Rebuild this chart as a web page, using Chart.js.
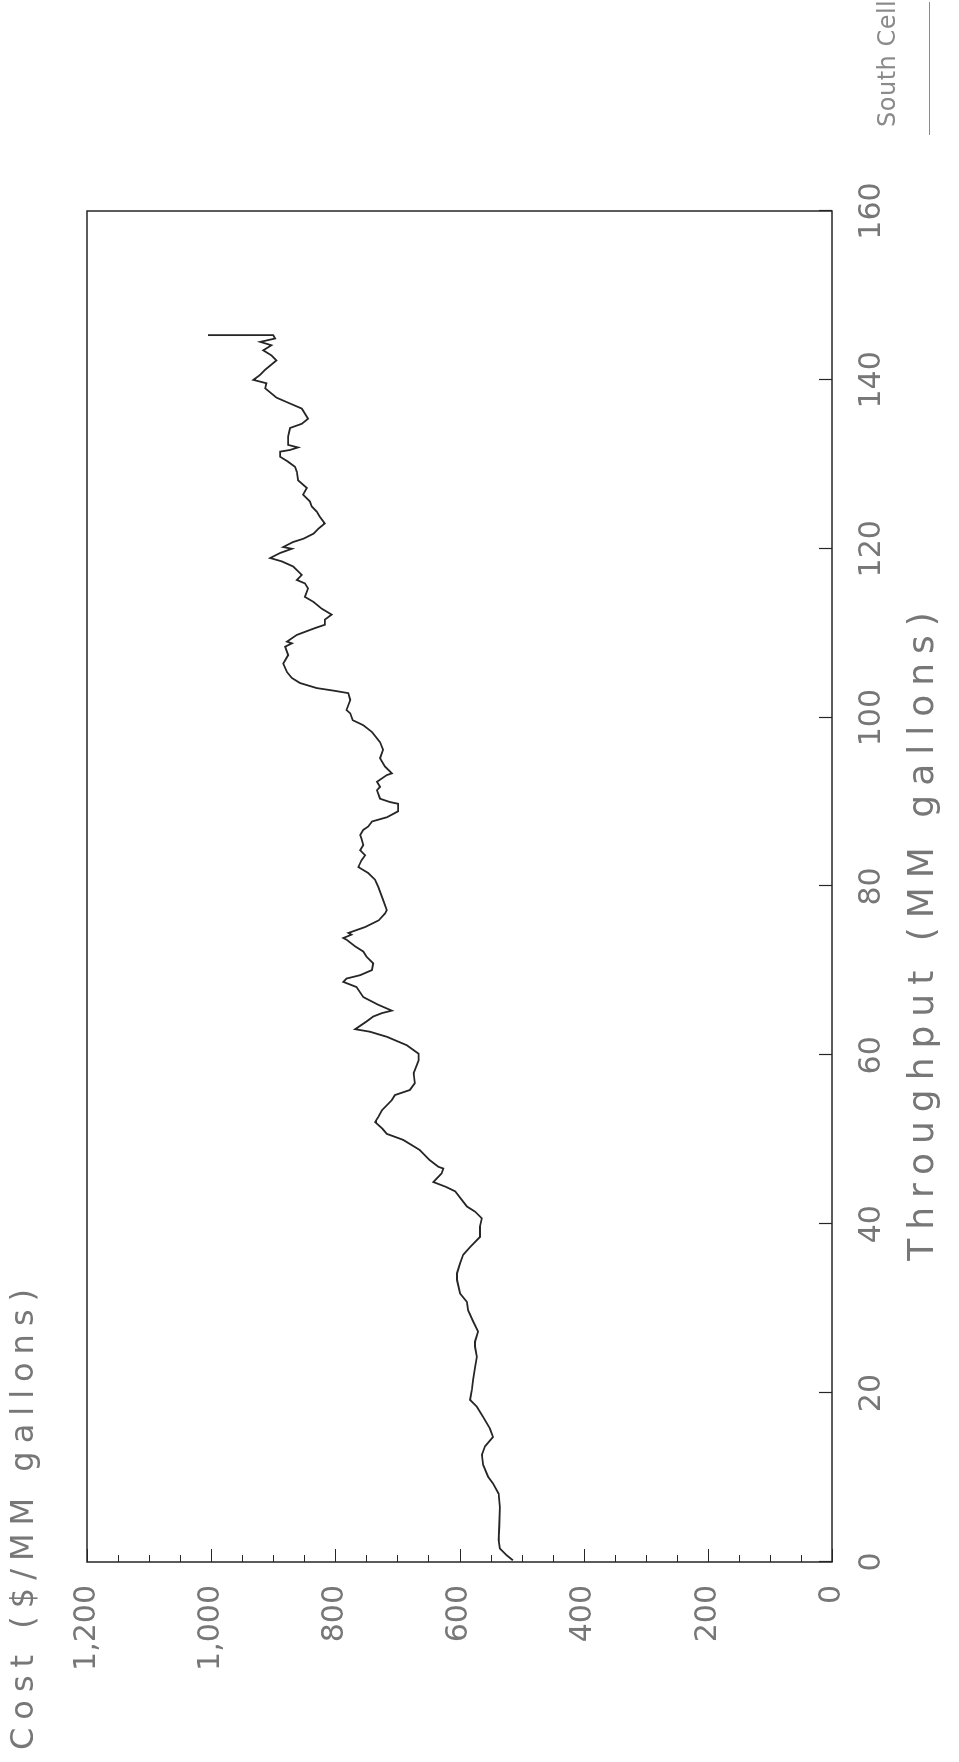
<!DOCTYPE html>
<html>
<head>
<meta charset="utf-8">
<script src="https://cdn.jsdelivr.net/npm/chart.js@4.4.1/dist/chart.umd.min.js"></script>
<style>
  html, body { margin: 0; padding: 0; background: #fff; overflow: hidden; width: 959px; height: 1762px; }
  /* the chart is laid out landscape and turned a quarter turn to stand on the page */
  #wrap { position: absolute; left: 0; top: 0; width: 1762px; height: 959px;
          transform-origin: 0 0; transform: translateY(1762px) rotate(-90deg); }
  canvas { display: block; }
</style>
</head>
<body>
<div id="wrap"><canvas id="c" width="1762" height="959"></canvas></div>
<script>
// Cumulative throughput (MM gallons) and running cost ($/MM gallons)
const throughput = [
  0.2, 0.8, 1.6, 2.6, 4.2, 6.5, 8.1, 9.3, 10.1, 11.5, 12.7, 13.7, 14.8, 15.8, 17.2, 18.4, 19.2, 20.4,
  21.6, 23.1, 24.3, 25.5, 26.1, 27.3, 28.5, 29.8, 30.8, 31.8, 33.4, 34.2, 35.4, 36.4, 37.3, 38.5,
  39.7, 40.7, 41.5, 42.1, 43.9, 44.4, 45.0, 46.0, 46.6, 46.8, 47.6, 48.8, 50.0, 50.7, 51.3, 52.1,
  52.7, 53.5, 54.7, 55.3, 55.9, 56.7, 57.9, 59.4, 60.2, 61.2, 62.2, 62.8, 63.1, 64.0, 64.6, 65.0,
  65.3, 66.0, 66.9, 68.1, 68.7, 69.1, 69.5, 70.1, 70.9, 71.7, 72.3, 72.9, 73.7, 73.9, 74.3, 74.5,
  75.2, 76.0, 76.8, 77.2, 78.4, 80.0, 80.8, 81.6, 82.3, 83.1, 83.7, 84.3, 84.9, 85.7, 86.1, 86.7,
  87.1, 87.7, 88.2, 88.9, 89.8, 90.0, 90.4, 91.4, 91.8, 92.4, 93.2, 93.4, 94.2, 95.2, 96.2, 97.1,
  98.3, 99.1, 99.7, 100.5, 100.9, 102.1, 102.9, 103.2, 103.5, 104.1, 104.7, 105.4, 106.4, 107.4,
  108.4, 108.8, 109.0, 109.8, 110.6, 111.0, 111.6, 112.2, 112.9, 113.7, 114.3, 115.3, 115.9, 116.3,
  116.9, 117.9, 118.5, 118.9, 119.5, 120.0, 120.2, 120.8, 121.2, 121.8, 122.4, 123.0, 123.8, 124.4,
  125.0, 125.6, 126.4, 127.2, 128.1, 129.1, 129.7, 130.3, 130.9, 131.5, 131.7, 132.0, 132.3, 133.3,
  134.3, 134.8, 135.4, 136.6, 137.2, 137.9, 139.0, 139.6, 140.0, 140.6, 141.2, 142.3, 142.9, 143.5,
  144.1, 144.5, 144.9, 145.3, 145.3
];
const cost = [
  514, 524, 535, 537, 536, 535, 537, 546, 554, 562, 564, 559, 546, 551, 562, 572, 583, 580,
  578, 575, 572, 575, 575, 570, 578, 586, 588, 599, 604, 604, 599, 594, 583, 567,
  567, 564, 575, 588, 607, 621, 642, 629, 626, 634, 648, 664, 691, 717, 724, 736,
  731, 725, 709, 704, 680, 672, 674, 666, 666, 685, 717, 744, 768, 750, 739, 725,
  709, 731, 755, 766, 787, 782, 760, 741, 739, 750, 755, 768, 782, 787, 774, 779,
  752, 730, 720, 717, 723, 731, 736, 747, 763, 758, 752, 760, 755, 758, 760, 755,
  747, 741, 717, 699, 699, 712, 728, 733, 728, 733, 717, 709, 720, 728, 723, 728,
  741, 755, 772, 776, 782, 776, 779, 803, 830, 857, 870, 878, 884, 876,
  881, 870, 878, 862, 833, 817, 817, 806, 822, 835, 849, 844, 849, 862,
  854, 868, 886, 905, 889, 870, 884, 868, 851, 835, 827, 817, 825, 830,
  838, 841, 852, 846, 860, 862, 865, 876, 889, 889, 873, 860, 876, 876,
  873, 854, 844, 854, 873, 895, 913, 911, 932, 921, 913, 895, 903, 916,
  903, 921, 897, 900, 1005
];

// Axis ticks
const throughputTicks = [0, 20, 40, 60, 80, 100, 120, 140, 160];
const costTicks = [0, 200, 400, 600, 800, 1000, 1200];
const costTickLabels = ['0', '200', '400', '600', '800', '1,000', '1,200'];
const costMinorStep = 50;

// Text
const seriesName = 'South Cell';
const xTitle = 'Throughput (MM gallons)';
const yTitle = 'Cost ($/MM gallons)';

const FONT = '"DejaVu Sans", "Liberation Sans", sans-serif';
const TEXT_COLOR = '#777777';
const INK = '#262626';

// Frame, inward tick marks, titles and legend drawn on top of the plot
const framePlugin = {
  id: 'frame',
  afterDraw(chart) {
    const { ctx, chartArea: a, scales: { x, y } } = chart;
    ctx.save();
    ctx.strokeStyle = INK;
    ctx.lineWidth = 1.5;
    ctx.strokeRect(a.left, a.top, a.right - a.left, a.bottom - a.top);

    ctx.lineWidth = 1.2;
    ctx.beginPath();
    throughputTicks.forEach(v => {
      const px = Math.round(x.getPixelForValue(v)) + 0.5;
      ctx.moveTo(px, a.bottom);
      ctx.lineTo(px, a.bottom - 13);
    });
    for (let v = costTicks[0]; v <= costTicks[costTicks.length - 1]; v += costMinorStep) {
      const py = Math.round(y.getPixelForValue(v)) + 0.5;
      const len = costTicks.includes(v) ? 13 : 7;
      ctx.moveTo(a.left, py);
      ctx.lineTo(a.left + len, py);
    }
    ctx.stroke();

    ctx.fillStyle = TEXT_COLOR;
    ctx.textBaseline = 'middle';
    ctx.font = '32px ' + FONT;
    ctx.letterSpacing = '8px';
    ctx.textAlign = 'left';
    ctx.fillText(yTitle, 12, 25);

    ctx.font = '36px ' + FONT;
    ctx.letterSpacing = '9px';
    ctx.textAlign = 'center';
    ctx.fillText(xTitle, 830, 924);

    ctx.font = '24px ' + FONT;
    ctx.letterSpacing = '0.5px';
    ctx.textAlign = 'left';
    ctx.fillStyle = '#8a8a8a';
    ctx.fillText(seriesName, 1635, 889);
    ctx.letterSpacing = '0px';
    ctx.strokeStyle = '#8a8a8a';
    ctx.lineWidth = 1.2;
    ctx.beginPath();
    ctx.moveTo(1627, 929.5);
    ctx.lineTo(1760, 929.5);
    ctx.stroke();
    ctx.restore();
  }
};

new Chart(document.getElementById('c'), {
  type: 'line',
  data: {
    datasets: [{
      label: seriesName,
      data: throughput.map((t, i) => ({ x: t, y: cost[i] })),
      borderColor: INK,
      borderWidth: 1.8,
      pointRadius: 0,
      tension: 0,
      fill: false
    }]
  },
  options: {
    responsive: false,
    animation: false,
    devicePixelRatio: 1,
    layout: { padding: { left: 0, right: 211, top: 87, bottom: 0 } },
    plugins: { legend: { display: false }, tooltip: { enabled: false } },
    scales: {
      x: {
        type: 'linear',
        min: 0, max: 160,
        grid: { display: false, drawTicks: false },
        border: { display: false },
        afterBuildTicks: s => { s.ticks = throughputTicks.map(v => ({ value: v })); },
        afterFit: s => { s.height = 127; },
        ticks: {
          maxRotation: 0, autoSkip: false, padding: 22,
          color: TEXT_COLOR, font: { family: FONT, size: 30 },
          callback: v => String(v)
        }
      },
      y: {
        type: 'linear',
        min: 0, max: 1200,
        grid: { display: false, drawTicks: false },
        border: { display: false },
        afterBuildTicks: s => { s.ticks = costTicks.map(v => ({ value: v })); },
        afterFit: s => { s.width = 200; },
        ticks: {
          autoSkip: false, padding: 23,
          color: TEXT_COLOR, font: { family: FONT, size: 30 },
          callback: v => costTickLabels[costTicks.indexOf(v)]
        }
      }
    }
  },
  plugins: [framePlugin]
});
</script>
</body>
</html>
